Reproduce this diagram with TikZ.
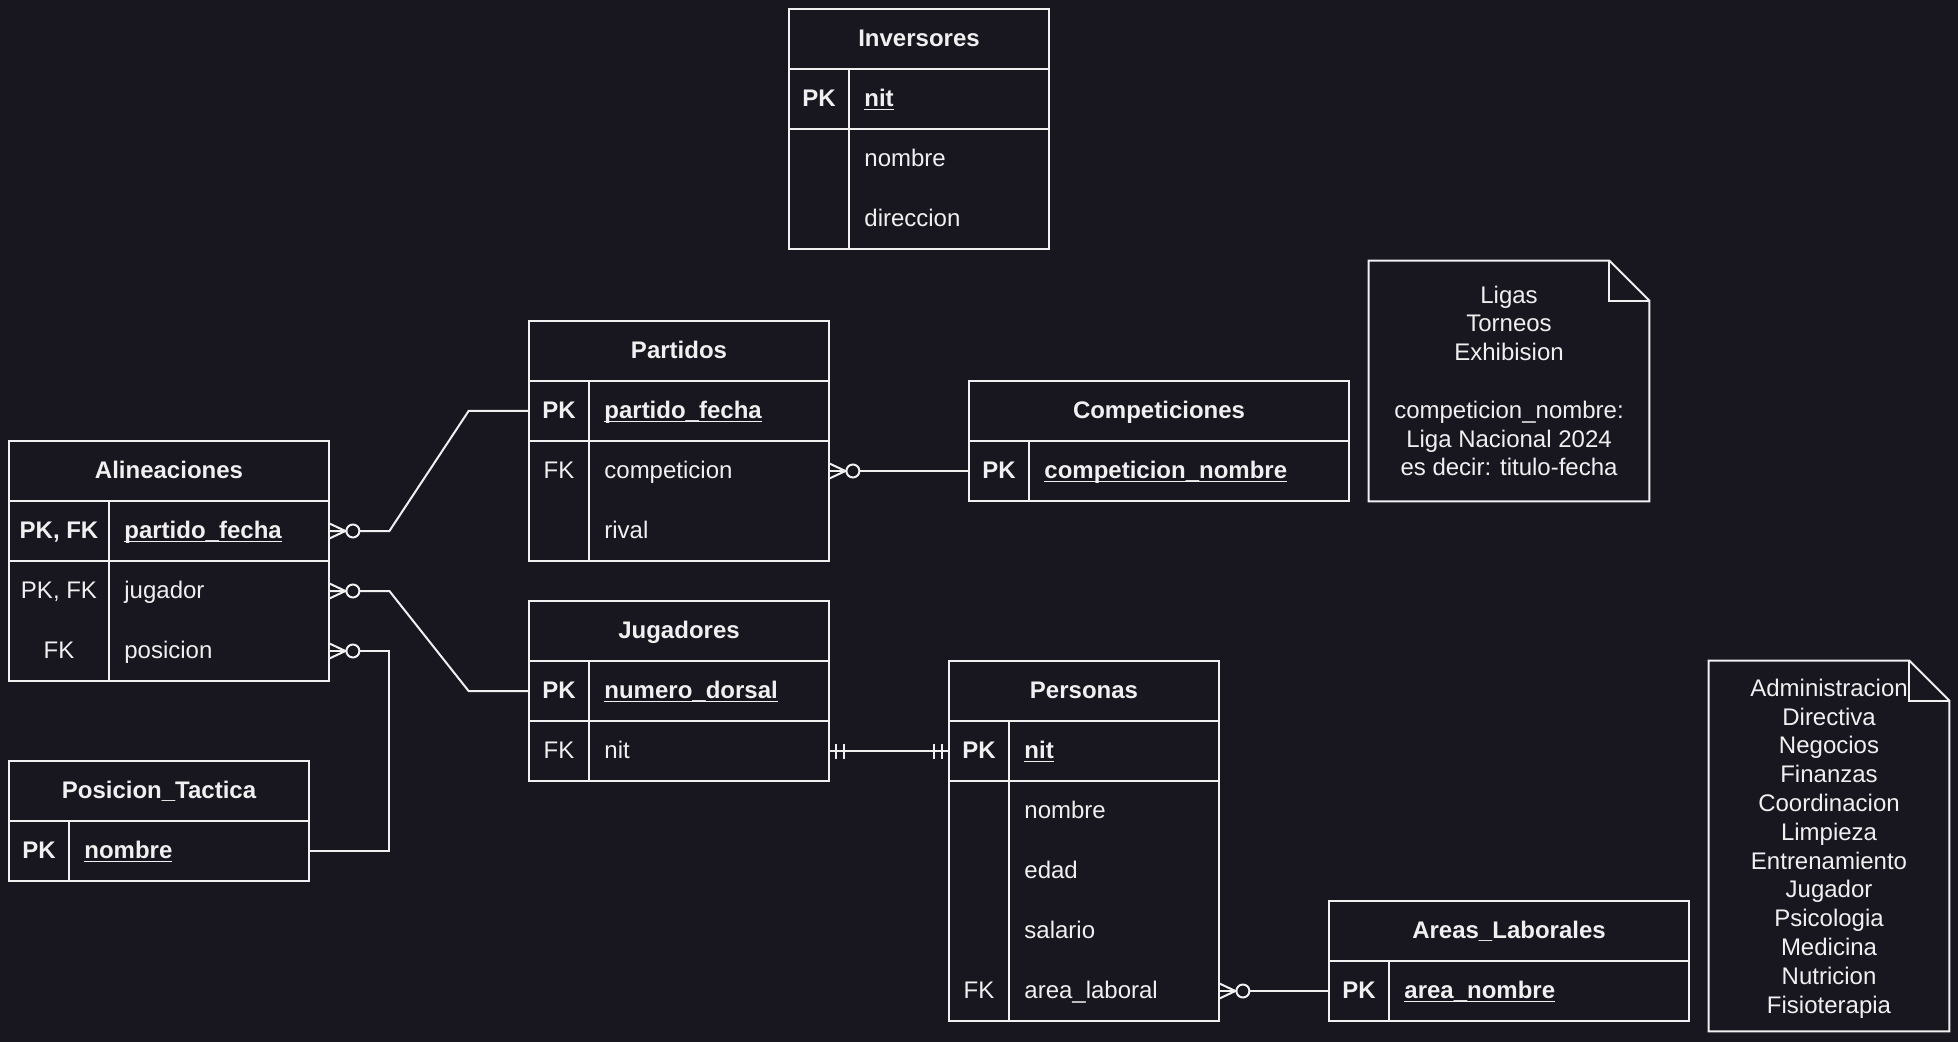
\documentclass[tikz,border=0pt]{standalone}
\usepackage{fontspec}
\setmainfont{Liberation Sans}
\usetikzlibrary{fit}
\definecolor{bg}{HTML}{18161F}
\definecolor{fg}{HTML}{F0F0F0}
\newcommand\ulk[1]{\setbox0\hbox{#1}\rlap{\rule[-1.9pt]{\wd0}{0.8pt}}\box0}
\newcommand\fsz{\fontsize{12}{14.4}\selectfont}
\tikzset{
  tbl/.style={draw=fg, line width=1pt, inner sep=0pt},
  rowc/.style={inner sep=0pt},
  tl/.style={draw=fg, line width=1pt},
  txt/.style={text=fg, inner sep=0pt, text height=9.5pt, text depth=2pt, font=\fsz},
  ttl/.style={txt, font=\fsz\bfseries},
  keyt/.style={txt},
  keyb/.style={txt, font=\fsz\bfseries},
  fld/.style={txt, anchor=west},
  fldb/.style={txt, anchor=west, font=\fsz\bfseries},
  conn/.style={draw=fg, line width=1pt},
  notetxt/.style={text=fg, align=center, inner sep=0pt, font=\fsz},
}
\newcommand\zm[1]{%
  \draw[conn] ([shift={(0,-7.5)}]#1) -- ([shift={(16,0)}]#1) -- ([shift={(0,7.5)}]#1);
  \draw[conn, fill=bg] ([shift={(23.5,0)}]#1) circle[radius=3.25pt];}
\newcommand\mo[2]{%
  \draw[conn] ([shift={({#2*7},-7.5)}]#1) -- ([shift={({#2*7},7.5)}]#1)
              ([shift={({#2*15},-7.5)}]#1) -- ([shift={({#2*15},7.5)}]#1);}
\begin{document}
\begin{tikzpicture}[x=0.5pt,y=-0.5pt]
\fill[bg] (0,0) rectangle (1958,1042);
\useasboundingbox (0,0) rectangle (1958,1042);

% ---------- Inversores ----------
\node[tbl, fit={(789,9)(1049,249)}] (inv) {};
\draw[tl] (789,69) -- (1049,69) (789,129) -- (1049,129) (849,69) -- (849,249);
\node[rowc, fit={(789,69)(1049,129)}] (inv-r1) {};
\node[rowc, fit={(789,129)(1049,189)}] (inv-r2) {};
\node[rowc, fit={(789,189)(1049,249)}] (inv-r3) {};
\node[ttl] (inv-t) at (919,39) {Inversores};
\node[keyb] (inv-k1) at (819,99) {PK};
\node[fldb] (inv-f1) at (864,99) {\ulk{nit}};
\node[fld] (inv-f2) at (864,159) {nombre};
\node[fld] (inv-f3) at (864,219) {direccion};

% ---------- Partidos ----------
\node[tbl, fit={(529,321)(829,561)}] (par) {};
\draw[tl] (529,381) -- (829,381) (529,441) -- (829,441) (589,381) -- (589,561);
\node[rowc, fit={(529,381)(829,441)}] (par-r1) {};
\node[rowc, fit={(529,441)(829,501)}] (par-r2) {};
\node[rowc, fit={(529,501)(829,561)}] (par-r3) {};
\node[ttl] (par-t) at (679,351) {Partidos};
\node[keyb] (par-k1) at (559,411) {PK};
\node[fldb] (par-f1) at (604,411) {\ulk{partido\_fecha}};
\node[keyt] (par-k2) at (559,471) {FK};
\node[fld] (par-f2) at (604,471) {competicion};
\node[fld] (par-f3) at (604,531) {rival};

% ---------- Competiciones ----------
\node[tbl, fit={(969,381)(1349,501)}] (com) {};
\draw[tl] (969,441) -- (1349,441) (1029,441) -- (1029,501);
\node[rowc, fit={(969,441)(1349,501)}] (com-r1) {};
\node[ttl] (com-t) at (1159,411) {Competiciones};
\node[keyb] (com-k1) at (999,471) {PK};
\node[fldb] (com-f1) at (1044,471) {\ulk{competicion\_nombre}};

% ---------- Alineaciones ----------
\node[tbl, fit={(9,441)(329,681)}] (ali) {};
\draw[tl] (9,501) -- (329,501) (9,561) -- (329,561) (109,501) -- (109,681);
\node[rowc, fit={(9,501)(329,561)}] (ali-r1) {};
\node[rowc, fit={(9,561)(329,621)}] (ali-r2) {};
\node[rowc, fit={(9,621)(329,681)}] (ali-r3) {};
\node[ttl] (ali-t) at (169,471) {Alineaciones};
\node[keyb] (ali-k1) at (59,531) {PK, FK};
\node[fldb] (ali-f1) at (124,531) {\ulk{partido\_fecha}};
\node[keyt] (ali-k2) at (59,591) {PK, FK};
\node[fld] (ali-f2) at (124,591) {jugador};
\node[keyt] (ali-k3) at (59,651) {FK};
\node[fld] (ali-f3) at (124,651) {posicion};

% ---------- Posicion_Tactica ----------
\node[tbl, fit={(9,761)(309,881)}] (pos) {};
\draw[tl] (9,821) -- (309,821) (69,821) -- (69,881);
\node[rowc, fit={(9,821)(309,881)}] (pos-r1) {};
\node[ttl] (pos-t) at (159,791) {Posicion\_Tactica};
\node[keyb] (pos-k1) at (39,851) {PK};
\node[fldb] (pos-f1) at (84,851) {\ulk{nombre}};

% ---------- Jugadores ----------
\node[tbl, fit={(529,601)(829,781)}] (jug) {};
\draw[tl] (529,661) -- (829,661) (529,721) -- (829,721) (589,661) -- (589,781);
\node[rowc, fit={(529,661)(829,721)}] (jug-r1) {};
\node[rowc, fit={(529,721)(829,781)}] (jug-r2) {};
\node[ttl] (jug-t) at (679,631) {Jugadores};
\node[keyb] (jug-k1) at (559,691) {PK};
\node[fldb] (jug-f1) at (604,691) {\ulk{numero\_dorsal}};
\node[keyt] (jug-k2) at (559,751) {FK};
\node[fld] (jug-f2) at (604,751) {nit};

% ---------- Personas ----------
\node[tbl, fit={(949,661)(1219,1021)}] (per) {};
\draw[tl] (949,721) -- (1219,721) (949,781) -- (1219,781) (1009,721) -- (1009,1021);
\node[rowc, fit={(949,721)(1219,781)}] (per-r1) {};
\node[rowc, fit={(949,781)(1219,841)}] (per-r2) {};
\node[rowc, fit={(949,841)(1219,901)}] (per-r3) {};
\node[rowc, fit={(949,901)(1219,961)}] (per-r4) {};
\node[rowc, fit={(949,961)(1219,1021)}] (per-r5) {};
\node[ttl] (per-t) at (1084,691) {Personas};
\node[keyb] (per-k1) at (979,751) {PK};
\node[fldb] (per-f1) at (1024,751) {\ulk{nit}};
\node[fld] (per-f2) at (1024,811) {nombre};
\node[fld] (per-f3) at (1024,871) {edad};
\node[fld] (per-f4) at (1024,931) {salario};
\node[keyt] (per-k5) at (979,991) {FK};
\node[fld] (per-f5) at (1024,991) {area\_laboral};

% ---------- Areas_Laborales ----------
\node[tbl, fit={(1329,901)(1689,1021)}] (are) {};
\draw[tl] (1329,961) -- (1689,961) (1389,961) -- (1389,1021);
\node[rowc, fit={(1329,961)(1689,1021)}] (are-r1) {};
\node[ttl] (are-t) at (1509,931) {Areas\_Laborales};
\node[keyb] (are-k1) at (1359,991) {PK};
\node[fldb] (are-f1) at (1404,991) {\ulk{area\_nombre}};

% ---------- Notes ----------
\node[inner sep=0pt, fit={(1369,261)(1649,501)}] (lig) {};
\draw[conn] (lig.north west) -- ([xshift=-20pt]lig.north east) -- ([yshift=-20pt]lig.north east)
  -- (lig.south east) -- (lig.south west) -- cycle;
\draw[conn] ([xshift=-20pt]lig.north east) -- ([xshift=-20pt,yshift=-20pt]lig.north east) -- ([yshift=-20pt]lig.north east);
\node[notetxt] (lig-t) at (lig.center) {Ligas\\Torneos\\Exhibision\\[14.4pt]competicion\_nombre:\\Liga Nacional 2024\\es decir: titulo-fecha};

\node[inner sep=0pt, fit={(1709,661)(1949,1031)}] (are-n) {};
\draw[conn] (are-n.north west) -- ([xshift=-20pt]are-n.north east) -- ([yshift=-20pt]are-n.north east)
  -- (are-n.south east) -- (are-n.south west) -- cycle;
\draw[conn] ([xshift=-20pt]are-n.north east) -- ([xshift=-20pt,yshift=-20pt]are-n.north east) -- ([yshift=-20pt]are-n.north east);
\node[notetxt, yshift=-1.2pt] (are-nt) at (are-n.center) {Administracion\\Directiva\\Negocios\\Finanzas\\Coordinacion\\Limpieza\\Entrenamiento\\Jugador\\Psicologia\\Medicina\\Nutricion\\Fisioterapia};

% ---------- Connectors ----------
\draw[conn] (ali-r1.east) -- ++(60,0) -- ([xshift=-30pt]par-r1.west) -- (par-r1.west);
\draw[conn] (ali-r2.east) -- ++(60,0) -- ([xshift=-30pt]jug-r1.west) -- (jug-r1.west);
\draw[conn] (ali-r3.east) -- ++(60,0) |- (pos-r1.east);
\draw[conn] (par-r2.east) -- (com-r1.west);
\draw[conn] (jug-r2.east) -- (per-r1.west);
\draw[conn] (per-r5.east) -- (are-r1.west);
\zm{ali-r1.east}
\zm{ali-r2.east}
\zm{ali-r3.east}
\zm{par-r2.east}
\zm{per-r5.east}
\mo{jug-r2.east}{1}
\mo{per-r1.west}{-1}
\end{tikzpicture}
\end{document}
